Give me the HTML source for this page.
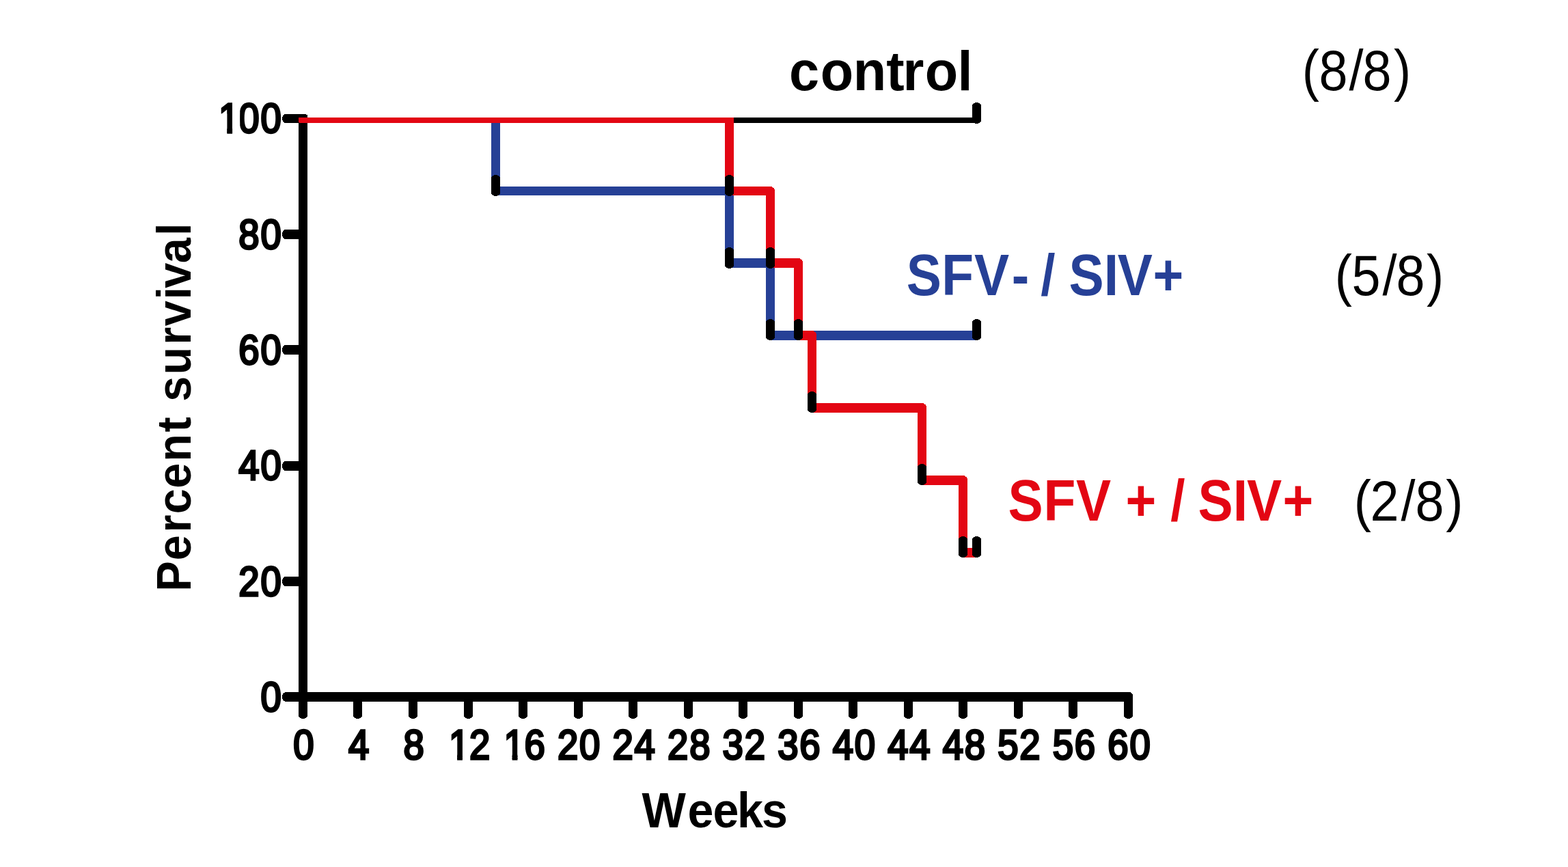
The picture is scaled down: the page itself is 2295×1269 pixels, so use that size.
<!DOCTYPE html>
<html lang="en"><head><meta charset="utf-8"><title>Percent survival</title>
<style>
html,body{margin:0;padding:0;background:#fff;}
body{width:2295px;height:1269px;overflow:hidden;}
svg{display:block;}
text{font-family:"Liberation Sans",Arial,Helvetica,sans-serif;font-kerning:none;white-space:pre;}
.b{font-weight:bold;}
.tk{stroke:#000;stroke-linejoin:miter;}
</style></head><body>
<svg width="2295" height="1269" viewBox="0 0 2295 1269">
<rect width="2295" height="1269" fill="#fff"/>
<defs><clipPath id="plot"><rect x="0" y="172" width="2295" height="1097"/></clipPath></defs>
<g fill="#000" shape-rendering="crispEdges">
<rect x="437" y="167" width="13" height="833" rx="4" ry="3"/>
<rect x="437" y="900" width="13" height="152" rx="6.5" ry="5"/>
<rect x="413" y="1013" width="1087" height="14" rx="6" ry="7"/>
<rect x="1400" y="1013" width="258" height="14" rx="5.5" ry="5.5"/>
<rect x="413" y="167" width="32" height="13" rx="5" ry="6.5"/>
<rect x="413" y="336" width="32" height="14" rx="5" ry="7"/>
<rect x="413" y="505" width="32" height="14" rx="5" ry="7"/>
<rect x="413" y="675" width="32" height="14" rx="5" ry="7"/>
<rect x="413" y="844" width="32" height="14" rx="5" ry="7"/>
<rect x="517" y="1018" width="13" height="34" rx="6.5" ry="5"/>
<rect x="598" y="1018" width="13" height="34" rx="6.5" ry="5"/>
<rect x="679" y="1018" width="13" height="34" rx="6.5" ry="5"/>
<rect x="759" y="1018" width="13" height="34" rx="6.5" ry="5"/>
<rect x="840" y="1018" width="13" height="34" rx="6.5" ry="5"/>
<rect x="920" y="1018" width="13" height="34" rx="6.5" ry="5"/>
<rect x="1001" y="1018" width="13" height="34" rx="6.5" ry="5"/>
<rect x="1081" y="1018" width="13" height="34" rx="6.5" ry="5"/>
<rect x="1162" y="1018" width="13" height="34" rx="6.5" ry="5"/>
<rect x="1242" y="1018" width="13" height="34" rx="6.5" ry="5"/>
<rect x="1323" y="1018" width="13" height="34" rx="6.5" ry="5"/>
<rect x="1403" y="1018" width="13" height="34" rx="6.5" ry="5"/>
<rect x="1484" y="1018" width="13" height="34" rx="6.5" ry="5"/>
<rect x="1564" y="1018" width="13" height="34" rx="6.5" ry="5"/>
<rect x="1645" y="1018" width="13" height="34" rx="6.5" ry="5"/>
</g>
<g clip-path="url(#plot)" shape-rendering="crispEdges">
<g fill="#000"><rect x="437" y="166" width="994.5" height="14" rx="6.5" ry="6.5"/></g>
<g fill="#264096"><rect x="437" y="166" width="295" height="14" rx="6.5" ry="6.5"/><rect x="719" y="166" width="13" height="120" rx="6.5" ry="6.5"/><rect x="719" y="273" width="355" height="13" rx="6.5" ry="6.5"/><rect x="1061" y="273" width="13" height="119" rx="6.5" ry="6.5"/><rect x="1061" y="378" width="73" height="14" rx="6.5" ry="6.5"/><rect x="1121" y="378" width="13" height="120" rx="6.5" ry="6.5"/><rect x="1121" y="484" width="310.5" height="14" rx="6.5" ry="6.5"/></g>
<g fill="#E30613"><rect x="437" y="166" width="637" height="14" rx="6.5" ry="6.5"/><rect x="1061" y="166" width="13" height="120" rx="6.5" ry="6.5"/><rect x="1061" y="273" width="73" height="13" rx="6.5" ry="6.5"/><rect x="1121" y="273" width="13" height="119" rx="6.5" ry="6.5"/><rect x="1121" y="378" width="54" height="14" rx="6.5" ry="6.5"/><rect x="1162" y="378" width="13" height="120" rx="6.5" ry="6.5"/><rect x="1162" y="484" width="33" height="14" rx="6.5" ry="6.5"/><rect x="1182" y="484" width="13" height="120" rx="6.5" ry="6.5"/><rect x="1182" y="590" width="174" height="14" rx="6.5" ry="6.5"/><rect x="1343" y="590" width="13" height="120" rx="6.5" ry="6.5"/><rect x="1343" y="696" width="73" height="14" rx="6.5" ry="6.5"/><rect x="1403" y="696" width="13" height="120" rx="6.5" ry="6.5"/><rect x="1403" y="802" width="28.5" height="14" rx="6.5" ry="6.5"/></g>
<rect x="437" y="166" width="13" height="14" rx="2.5" ry="2.5" fill="#E30613"/>
</g>
<g fill="#000" shape-rendering="crispEdges">
<rect x="1423" y="150" width="13" height="31" rx="6.5" ry="4.5"/>
<rect x="719" y="256" width="13" height="31" rx="6.5" ry="4.5"/>
<rect x="1061" y="256" width="13" height="31" rx="6.5" ry="4.5"/>
<rect x="1061" y="362" width="13" height="31" rx="6.5" ry="4.5"/>
<rect x="1121" y="362" width="13" height="31" rx="6.5" ry="4.5"/>
<rect x="1121" y="467" width="13" height="31" rx="6.5" ry="4.5"/>
<rect x="1162" y="467" width="13" height="31" rx="6.5" ry="4.5"/>
<rect x="1423" y="467" width="13" height="31" rx="6.5" ry="4.5"/>
<rect x="1182" y="573" width="13" height="31" rx="6.5" ry="4.5"/>
<rect x="1343" y="679" width="13" height="31" rx="6.5" ry="4.5"/>
<rect x="1403" y="785" width="13" height="31" rx="6.5" ry="4.5"/>
<rect x="1423" y="785" width="13" height="31" rx="6.5" ry="4.5"/>
</g>
<text transform="translate(413.5 1040.7) scale(0.885 1)" font-size="61.5" text-anchor="start" fill="#000" class="tk" id="yt0" stroke-width="3.4" x="-36.24">0</text>
<text transform="translate(413.5 871.7) scale(0.885 1)" font-size="61.5" text-anchor="start" fill="#000" class="tk" id="yt20" stroke-width="3.4" x="-72.47 -36.24">20</text>
<text transform="translate(413.5 701.7) scale(0.885 1)" font-size="61.5" text-anchor="start" fill="#000" class="tk" id="yt40" stroke-width="3.4" x="-72.47 -36.24">40</text>
<text transform="translate(413.5 532.7) scale(0.885 1)" font-size="61.5" text-anchor="start" fill="#000" class="tk" id="yt60" stroke-width="3.4" x="-72.47 -36.24">60</text>
<text transform="translate(413.5 363.7) scale(0.885 1)" font-size="61.5" text-anchor="start" fill="#000" class="tk" id="yt80" stroke-width="3.4" x="-72.47 -36.24">80</text>
<clipPath id="cyt100"><path clip-rule="evenodd" d="M-400 -200H400V200H-400ZM-106.55 -27.03H-91.78V6H-106.55ZM-82.95 -47.01H-70.35V6H-82.95Z"/></clipPath>
<text transform="translate(413.5 193.5) scale(0.885 1)" font-size="61.5" text-anchor="start" fill="#000" class="tk" id="yt100" stroke-width="3.4" clip-path="url(#cyt100)" x="-105.55 -72.47 -36.24">100</text>
<text transform="translate(445.4 1111.4) scale(0.885 1)" font-size="61.5" text-anchor="start" fill="#000" class="tk" id="xt0" stroke-width="3.4" x="-18.12">0</text>
<text transform="translate(525.93 1111.4) scale(0.885 1)" font-size="61.5" text-anchor="start" fill="#000" class="tk" id="xt4" stroke-width="3.4" x="-18.12">4</text>
<text transform="translate(606.47 1111.4) scale(0.885 1)" font-size="61.5" text-anchor="start" fill="#000" class="tk" id="xt8" stroke-width="3.4" x="-18.12">8</text>
<clipPath id="cxt12"><path clip-rule="evenodd" d="M-400 -200H400V200H-400ZM-34.97 -27.03H-20.21V6H-34.97ZM-11.38 -47.01H1.22V6H-11.38Z"/></clipPath>
<text transform="translate(687 1111.4) scale(0.885 1)" font-size="61.5" text-anchor="start" fill="#000" class="tk" id="xt12" stroke-width="3.4" clip-path="url(#cxt12)" x="-33.98 0">12</text>
<clipPath id="cxt16"><path clip-rule="evenodd" d="M-400 -200H400V200H-400ZM-34.97 -27.03H-20.21V6H-34.97ZM-11.38 -47.01H1.22V6H-11.38Z"/></clipPath>
<text transform="translate(767.53 1111.4) scale(0.885 1)" font-size="61.5" text-anchor="start" fill="#000" class="tk" id="xt16" stroke-width="3.4" clip-path="url(#cxt16)" x="-33.98 0">16</text>
<text transform="translate(848.07 1111.4) scale(0.885 1)" font-size="61.5" text-anchor="start" fill="#000" class="tk" id="xt20" stroke-width="3.4" x="-36.24 0">20</text>
<text transform="translate(928.6 1111.4) scale(0.885 1)" font-size="61.5" text-anchor="start" fill="#000" class="tk" id="xt24" stroke-width="3.4" x="-36.24 0">24</text>
<text transform="translate(1009.13 1111.4) scale(0.885 1)" font-size="61.5" text-anchor="start" fill="#000" class="tk" id="xt28" stroke-width="3.4" x="-36.24 0">28</text>
<text transform="translate(1089.67 1111.4) scale(0.885 1)" font-size="61.5" text-anchor="start" fill="#000" class="tk" id="xt32" stroke-width="3.4" x="-36.24 0">32</text>
<text transform="translate(1170.2 1111.4) scale(0.885 1)" font-size="61.5" text-anchor="start" fill="#000" class="tk" id="xt36" stroke-width="3.4" x="-36.24 0">36</text>
<text transform="translate(1250.73 1111.4) scale(0.885 1)" font-size="61.5" text-anchor="start" fill="#000" class="tk" id="xt40" stroke-width="3.4" x="-36.24 0">40</text>
<text transform="translate(1331.27 1111.4) scale(0.885 1)" font-size="61.5" text-anchor="start" fill="#000" class="tk" id="xt44" stroke-width="3.4" x="-36.24 0">44</text>
<text transform="translate(1411.8 1111.4) scale(0.885 1)" font-size="61.5" text-anchor="start" fill="#000" class="tk" id="xt48" stroke-width="3.4" x="-36.24 0">48</text>
<text transform="translate(1492.33 1111.4) scale(0.885 1)" font-size="61.5" text-anchor="start" fill="#000" class="tk" id="xt52" stroke-width="3.4" x="-36.24 0">52</text>
<text transform="translate(1572.86 1111.4) scale(0.885 1)" font-size="61.5" text-anchor="start" fill="#000" class="tk" id="xt56" stroke-width="3.4" x="-36.24 0">56</text>
<text transform="translate(1653.4 1111.4) scale(0.885 1)" font-size="61.5" text-anchor="start" fill="#000" class="tk" id="xt60" stroke-width="3.4" x="-36.24 0">60</text>
<text transform="translate(1154.89 131.8) scale(0.9672 1)" font-size="82" text-anchor="start" fill="#000" class="b" id="control" x="0 47.39 96.96 147.29 172.27 205.69 255.06">control</text>
<text transform="translate(1326.63 431.8) scale(0.902 1)" font-size="85" text-anchor="start" fill="#264096" class="b" id="sfvm" x="0 57.22 110.12 170.91 199.22 218.1 241.72 263.67 320.66 342.78 400.03">SFV- / SIV+</text>
<text transform="translate(1475.47 761.8) scale(0.902 1)" font-size="85" text-anchor="start" fill="#E30613" class="b" id="sfvp" x="0 57.67 110.31 167.01 190.71 240.35 263.68 287.3 308.2 364.99 387.47 445.65">SFV + / SIV+</text>
<text transform="translate(1905.82 131.7) scale(0.905 1)" font-size="83.5" text-anchor="start" fill="#000" id="n88" x="0 27.19 75.99 97.89 148.25">(8/8)</text>
<text transform="translate(1953.7 431.7) scale(0.905 1)" font-size="83.5" text-anchor="start" fill="#000" id="n58" x="0 27.45 77.13 99.23 148.45">(5/8)</text>
<text transform="translate(1981.8 761.7) scale(0.905 1)" font-size="83.5" text-anchor="start" fill="#000" id="n28" x="0 26.12 75.97 99.25 148.5">(2/8)</text>
<text transform="translate(939.4 1210.85) scale(0.9466 1)" font-size="72" text-anchor="start" fill="#000" class="b" id="weeks" x="0 70.82 109.89 147.57 185.41">Weeks</text>
<text transform="translate(279.1 865.69) rotate(-90) scale(0.952 1)" font-size="70" text-anchor="start" fill="#000" class="b" id="ps" x="0 47.73 90.68 119.25 158.65 199.52 244.89 268.2 291.84 333.32 379.14 408.15 448.79 466.21 504.71 546.89">Percent survival</text>
</svg>
</body></html>
